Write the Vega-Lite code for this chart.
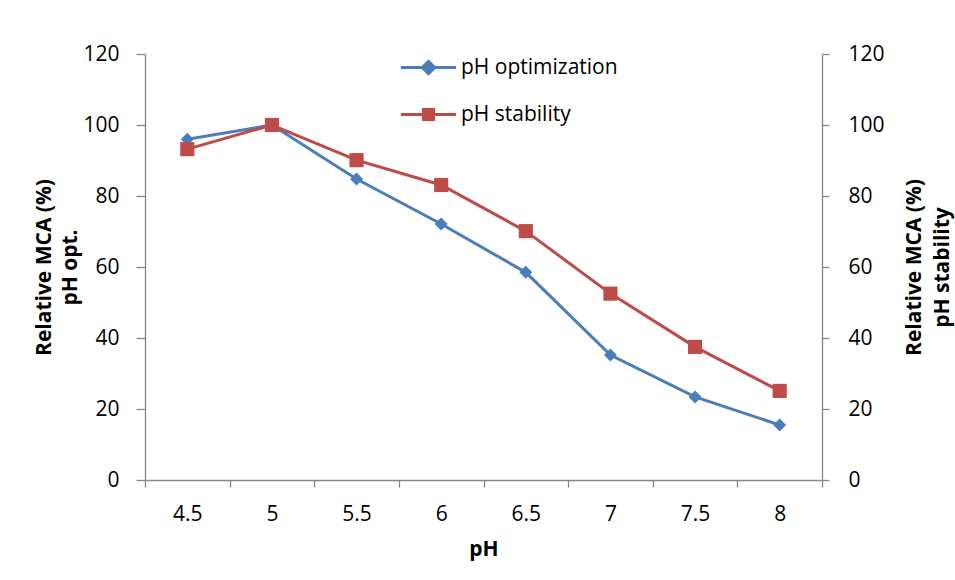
{
  "$schema": "https://vega.github.io/schema/vega-lite/v6.json",
  "autosize": {"type": "none"},
  "padding": {"left": 145, "top": 54, "right": 133, "bottom": 100},
  "width": 677,
  "height": 426,
  "background": "white",
  "config": {
    "view": {"stroke": null},
    "font": "Open Sans",
    "axis": {
      "grid": false,
      "domainColor": "#868686",
      "tickColor": "#868686",
      "domainWidth": 1.3,
      "tickWidth": 1.3,
      "labelColor": "#000000",
      "labelFontSize": 21,
      "labelFont": "Open Sans",
      "titleFont": "Open Sans",
      "titleFontSize": 21,
      "titleFontWeight": "bold",
      "titleColor": "#000000"
    }
  },
  "data": {
    "values": [
      {"pH": "4.5", "series": "pH optimization", "value": 96},
      {"pH": "5", "series": "pH optimization", "value": 100},
      {"pH": "5.5", "series": "pH optimization", "value": 84.8},
      {"pH": "6", "series": "pH optimization", "value": 72.1},
      {"pH": "6.5", "series": "pH optimization", "value": 58.5},
      {"pH": "7", "series": "pH optimization", "value": 35.2},
      {"pH": "7.5", "series": "pH optimization", "value": 23.4},
      {"pH": "8", "series": "pH optimization", "value": 15.5},
      {"pH": "4.5", "series": "pH stability", "value": 93.2},
      {"pH": "5", "series": "pH stability", "value": 100},
      {"pH": "5.5", "series": "pH stability", "value": 90.1},
      {"pH": "6", "series": "pH stability", "value": 83.1},
      {"pH": "6.5", "series": "pH stability", "value": 70.1},
      {"pH": "7", "series": "pH stability", "value": 52.5},
      {"pH": "7.5", "series": "pH stability", "value": 37.5},
      {"pH": "8", "series": "pH stability", "value": 25.1}
    ]
  },
  "encoding": {
    "x": {
      "field": "pH",
      "type": "ordinal",
      "sort": ["4.5", "5", "5.5", "6", "6.5", "7", "7.5", "8"],
      "bandPosition": 0.5,
      "scale": {"type": "band", "paddingInner": 0, "paddingOuter": 0},
      "axis": {
        "title": "pH",
        "labelAngle": 0,
        "tickBand": "extent",
        "tickSize": 7,
        "labelPadding": 16,
        "titlePadding": 14
      }
    },
    "color": {
      "field": "series",
      "type": "nominal",
      "scale": {"domain": ["pH optimization", "pH stability"], "range": ["#4A7EBB", "#BE4B48"]},
      "legend": {
        "title": null,
        "orient": "none",
        "legendX": 259,
        "legendY": -11,
        "padding": 0,
        "rowPadding": 10,
        "symbolSize": 2116,
        "symbolStrokeWidth": 3,
        "labelOffset": 8,
        "labelFontSize": 21,
        "labelFont": "Open Sans",
        "labelColor": "#000000",
        "encode": {
          "symbols": {
            "update": {
              "shape": {"signal": "datum.value === 'pH optimization' ? 'M-1.2,0L1.2,0M0,-0.27L0.27,0L0,0.27L-0.27,0Z' : 'M-1.2,0L1.2,0M-0.22,-0.22L0.22,-0.22L0.22,0.22L-0.22,0.22Z'"},
              "fill": {"signal": "datum.value === 'pH optimization' ? '#4A7EBB' : '#BE4B48'"},
              "stroke": {"signal": "datum.value === 'pH optimization' ? '#4A7EBB' : '#BE4B48'"},
              "strokeWidth": {"value": 3},
              "opacity": {"value": 1}
            }
          }
        }
      }
    }
  },
  "layer": [
    {
      "transform": [{"filter": "datum.series === 'pH optimization'"}],
      "encoding": {
        "y": {
          "field": "value",
          "type": "quantitative",
          "scale": {"domain": [0, 120], "nice": false},
          "axis": {
            "orient": "left",
            "values": [0, 20, 40, 60, 80, 100, 120],
            "tickSize": 9,
            "labelPadding": 17,
            "title": ["Relative MCA (%)", "pH opt."],
            "titleLineHeight": 26,
            "titlePadding": 2
          }
        }
      },
      "layer": [
        {"mark": {"type": "line", "strokeWidth": 3}},
        {"mark": {"type": "point", "shape": "diamond", "filled": true, "size": 170, "opacity": 1}}
      ]
    },
    {
      "transform": [{"filter": "datum.series === 'pH stability'"}],
      "encoding": {
        "y": {
          "field": "value",
          "type": "quantitative",
          "scale": {"domain": [0, 120], "nice": false},
          "axis": {
            "orient": "right",
            "values": [0, 20, 40, 60, 80, 100, 120],
            "tickSize": 7,
            "labelPadding": 19,
            "title": ["Relative MCA (%)", "pH stability"],
            "titleAngle": 270,
            "titleLineHeight": 28,
            "titlePadding": 12
          }
        }
      },
      "layer": [
        {"mark": {"type": "line", "strokeWidth": 3}},
        {"mark": {"type": "point", "shape": "square", "filled": true, "size": 200, "opacity": 1}}
      ]
    }
  ],
  "resolve": {"scale": {"y": "independent"}}
}
